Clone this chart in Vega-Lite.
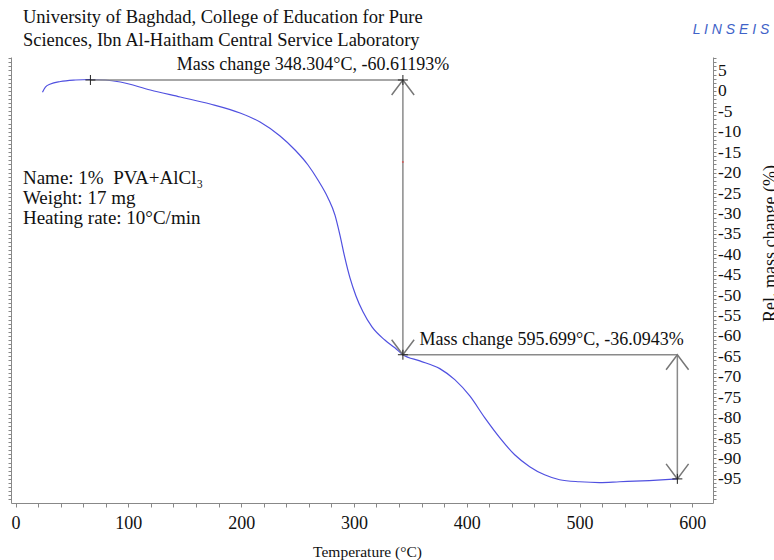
{
  "$schema": "https://vega.github.io/schema/vega-lite/v6.json",
  "width": 702,
  "height": 446,
  "autosize": "none",
  "padding": {"left": 11, "top": 57, "right": 61, "bottom": 57},
  "background": "white",
  "config": {
    "view": {"stroke": null},
    "font": "Liberation Serif",
    "axis": {"grid": false, "labelFont": "Liberation Serif", "titleFont": "Liberation Serif", "labelColor": "#111", "titleColor": "#111", "titleFontWeight": "normal", "labelFontSize": 17.5, "titleFontSize": 16, "domainColor": "#888", "tickColor": "#888"}
  },
  "datasets": {
    "curve": [
      {"T": 23.9, "m": -0.34}, {"T": 26.5, "m": 0.95}, {"T": 31.0, "m": 1.69}, {"T": 39.8, "m": 2.30},
      {"T": 53.1, "m": 2.67}, {"T": 66.4, "m": 2.79}, {"T": 79.6, "m": 2.67}, {"T": 92.9, "m": 2.18},
      {"T": 119.5, "m": 0.22}, {"T": 146.0, "m": -1.49}, {"T": 172.6, "m": -3.21}, {"T": 199.1, "m": -5.41},
      {"T": 216.8, "m": -7.61}, {"T": 234.5, "m": -11.04}, {"T": 247.8, "m": -14.47}, {"T": 259.3, "m": -18.14},
      {"T": 268.1, "m": -21.81}, {"T": 277.0, "m": -26.2}, {"T": 283.2, "m": -30.4}, {"T": 287.6, "m": -35.3},
      {"T": 292.0, "m": -40.9}, {"T": 296.5, "m": -45.8}, {"T": 301.8, "m": -50.2}, {"T": 308.0, "m": -54.1},
      {"T": 316.0, "m": -57.8}, {"T": 327.4, "m": -61.0}, {"T": 336.3, "m": -62.9}, {"T": 343.4, "m": -64.6},
      {"T": 358.4, "m": -66.1}, {"T": 376.1, "m": -68.0}, {"T": 389.4, "m": -70.7}, {"T": 402.7, "m": -74.7},
      {"T": 415.9, "m": -80.0}, {"T": 429.2, "m": -84.9}, {"T": 442.5, "m": -89.1}, {"T": 455.8, "m": -92.0},
      {"T": 469.0, "m": -94.0}, {"T": 482.3, "m": -95.2}, {"T": 500.0, "m": -95.7}, {"T": 517.7, "m": -95.9},
      {"T": 535.4, "m": -95.7}, {"T": 561.9, "m": -95.4}, {"T": 586.7, "m": -95.0}
    ],
    "segments": [
      {"T": 66.4, "T2": 343.4, "m": 2.67, "m2": 2.67},
      {"T": 343.4, "T2": 343.4, "m": 2.67, "m2": -64.6},
      {"T": 343.4, "T2": 586.7, "m": -64.6, "m2": -64.6},
      {"T": 586.7, "T2": 586.7, "m": -64.6, "m2": -95.0}
    ],
    "arrows": [
      {"T": 343.4, "m": 2.67, "dir": "up"},
      {"T": 343.4, "m": -64.6, "dir": "down"},
      {"T": 586.7, "m": -64.6, "dir": "up"},
      {"T": 586.7, "m": -95.0, "dir": "down"}
    ],
    "crosses": [
      {"T": 66.4, "m": 2.67}, {"T": 343.4, "m": 2.67}, {"T": 343.4, "m": -64.6}, {"T": 586.7, "m": -95.0}
    ],
    "labels": [
      {"T": 263.7, "m": 6.34, "text": "Mass change 348.304°C, -60.61193%"},
      {"T": 475.2, "m": -61.0, "text": "Mass change 595.699°C, -36.0943%"}
    ],
    "info": [
      {"T": 6.6, "m": -21.3, "text": "Name: 1%\u00a0 PVA+AlCl₃"},
      {"T": 6.6, "m": -26.2, "text": "Weight: 17 mg"},
      {"T": 6.6, "m": -31.1, "text": "Heating rate: 10°C/min"}
    ],
    "header": [
      {"T": 6.6, "m": 18.1, "text": "University of Baghdad, College of Education for Pure"},
      {"T": 6.6, "m": 12.5, "text": "Sciences, Ibn Al-Haitham Central Service Laboratory"}
    ],
    "logo": [{"T": 634.3, "m": 14.9, "text": "L I N S E I S"}],
    "redDot": [{"T": 343.4, "m": -17.4}]
  },
  "encoding": {
    "x": {"field": "T", "type": "quantitative", "scale": {"domain": [-4, 618.3], "nice": false, "zero": false},
      "axis": {"orient": "bottom", "values": [0,20,40,60,80,100,120,140,160,180,200,220,240,260,280,300,320,340,360,380,400,420,440,460,480,500,520,540,560,580,600],
        "labelExpr": "datum.value % 100 === 0 ? '' + datum.value : ''", "labelOverlap": false, "labelFontSize": 18, "tickSize": 4, "labelPadding": 7,
        "title": "Temperature (°C)", "titleFontSize": 15.5, "titlePadding": 12, "titleX": 356}},
    "y": {"field": "m", "type": "quantitative", "scale": {"domain": [-100.9, 8.3], "nice": false, "zero": false}, "axis": null}
  },
  "resolve": {"axis": {"y": "independent"}},
  "layer": [
    {
      "data": {"name": "curve"},
      "mark": {"type": "line", "color": "#5050e0", "strokeWidth": 1.2, "interpolate": "monotone"},
      "encoding": {
        "y": {"field": "m", "type": "quantitative", "scale": {"domain": [-100.9, 8.3], "nice": false, "zero": false},
          "axis": {"orient": "right", "values": [8,7,6,5,4,3,2,1,0,-1,-2,-3,-4,-5,-6,-7,-8,-9,-10,-11,-12,-13,-14,-15,-16,-17,-18,-19,-20,-21,-22,-23,-24,-25,-26,-27,-28,-29,-30,-31,-32,-33,-34,-35,-36,-37,-38,-39,-40,-41,-42,-43,-44,-45,-46,-47,-48,-49,-50,-51,-52,-53,-54,-55,-56,-57,-58,-59,-60,-61,-62,-63,-64,-65,-66,-67,-68,-69,-70,-71,-72,-73,-74,-75,-76,-77,-78,-79,-80,-81,-82,-83,-84,-85,-86,-87,-88,-89,-90,-91,-92,-93,-94,-95,-96,-97,-98,-99,-100],
            "labelExpr": "(datum.value % 5 === 0 && datum.value > -100) ? '' + datum.value : ''", "labelOverlap": false, "tickSize": 3, "labelPadding": 1.5, "labelAlign": "left",
            "title": "Rel. mass change (%)", "titleFontSize": 18, "titleAngle": 270, "titleX": 62, "titleY": 186, "titleAlign": "center", "titleBaseline": "alphabetic"}}
      }
    },
    {
      "data": {"name": "segments"},
      "mark": {"type": "rule", "color": "#8a8a8a", "strokeWidth": 1.5},
      "encoding": {
        "x2": {"field": "T2"},
        "y": {"field": "m", "type": "quantitative", "scale": {"domain": [-100.9, 8.3], "nice": false, "zero": false},
          "axis": {"orient": "left", "values": [8,7,6,5,4,3,2,1,0,-1,-2,-3,-4,-5,-6,-7,-8,-9,-10,-11,-12,-13,-14,-15,-16,-17,-18,-19,-20,-21,-22,-23,-24,-25,-26,-27,-28,-29,-30,-31,-32,-33,-34,-35,-36,-37,-38,-39,-40,-41,-42,-43,-44,-45,-46,-47,-48,-49,-50,-51,-52,-53,-54,-55,-56,-57,-58,-59,-60,-61,-62,-63,-64,-65,-66,-67,-68,-69,-70,-71,-72,-73,-74,-75,-76,-77,-78,-79,-80,-81,-82,-83,-84,-85,-86,-87,-88,-89,-90,-91,-92,-93,-94,-95,-96,-97,-98,-99,-100],
            "labels": false, "tickSize": 3, "title": null}},
        "y2": {"field": "m2"}
      }
    },
    {
      "data": {"name": "arrows"},
      "mark": {"type": "point", "filled": false, "stroke": "#777", "strokeWidth": 1.5, "size": 900, "opacity": 1},
      "encoding": {
        "shape": {"field": "dir", "type": "nominal", "scale": {"domain": ["up", "down"], "range": ["M -0.75 1 L 0 0 L 0.75 1", "M -0.75 -1 L 0 0 L 0.75 -1"]}, "legend": null}
      }
    },
    {
      "data": {"name": "crosses"},
      "mark": {"type": "point", "filled": false, "stroke": "#222", "strokeWidth": 1, "size": 100, "opacity": 1, "shape": "M -1 0 L 1 0 M 0 -1 L 0 1"}
    },
    {
      "data": {"name": "redDot"},
      "mark": {"type": "point", "filled": true, "color": "#e04040", "size": 4}
    },
    {
      "data": {"name": "labels"},
      "mark": {"type": "text", "font": "Liberation Serif", "fontSize": 18, "color": "#111", "align": "center", "baseline": "middle"},
      "encoding": {"text": {"field": "text"}}
    },
    {
      "data": {"name": "info"},
      "mark": {"type": "text", "font": "Liberation Serif", "fontSize": 19, "color": "#111", "align": "left", "baseline": "middle"},
      "encoding": {"text": {"field": "text"}}
    },
    {
      "data": {"name": "header"},
      "mark": {"type": "text", "font": "Liberation Serif", "fontSize": 18.5, "color": "#111", "align": "left", "baseline": "middle"},
      "encoding": {"text": {"field": "text"}}
    },
    {
      "data": {"name": "logo"},
      "mark": {"type": "text", "font": "Liberation Sans", "fontSize": 14, "fontStyle": "italic", "color": "#3f63c8", "align": "center", "baseline": "middle"},
      "encoding": {"text": {"field": "text"}}
    }
  ]
}
